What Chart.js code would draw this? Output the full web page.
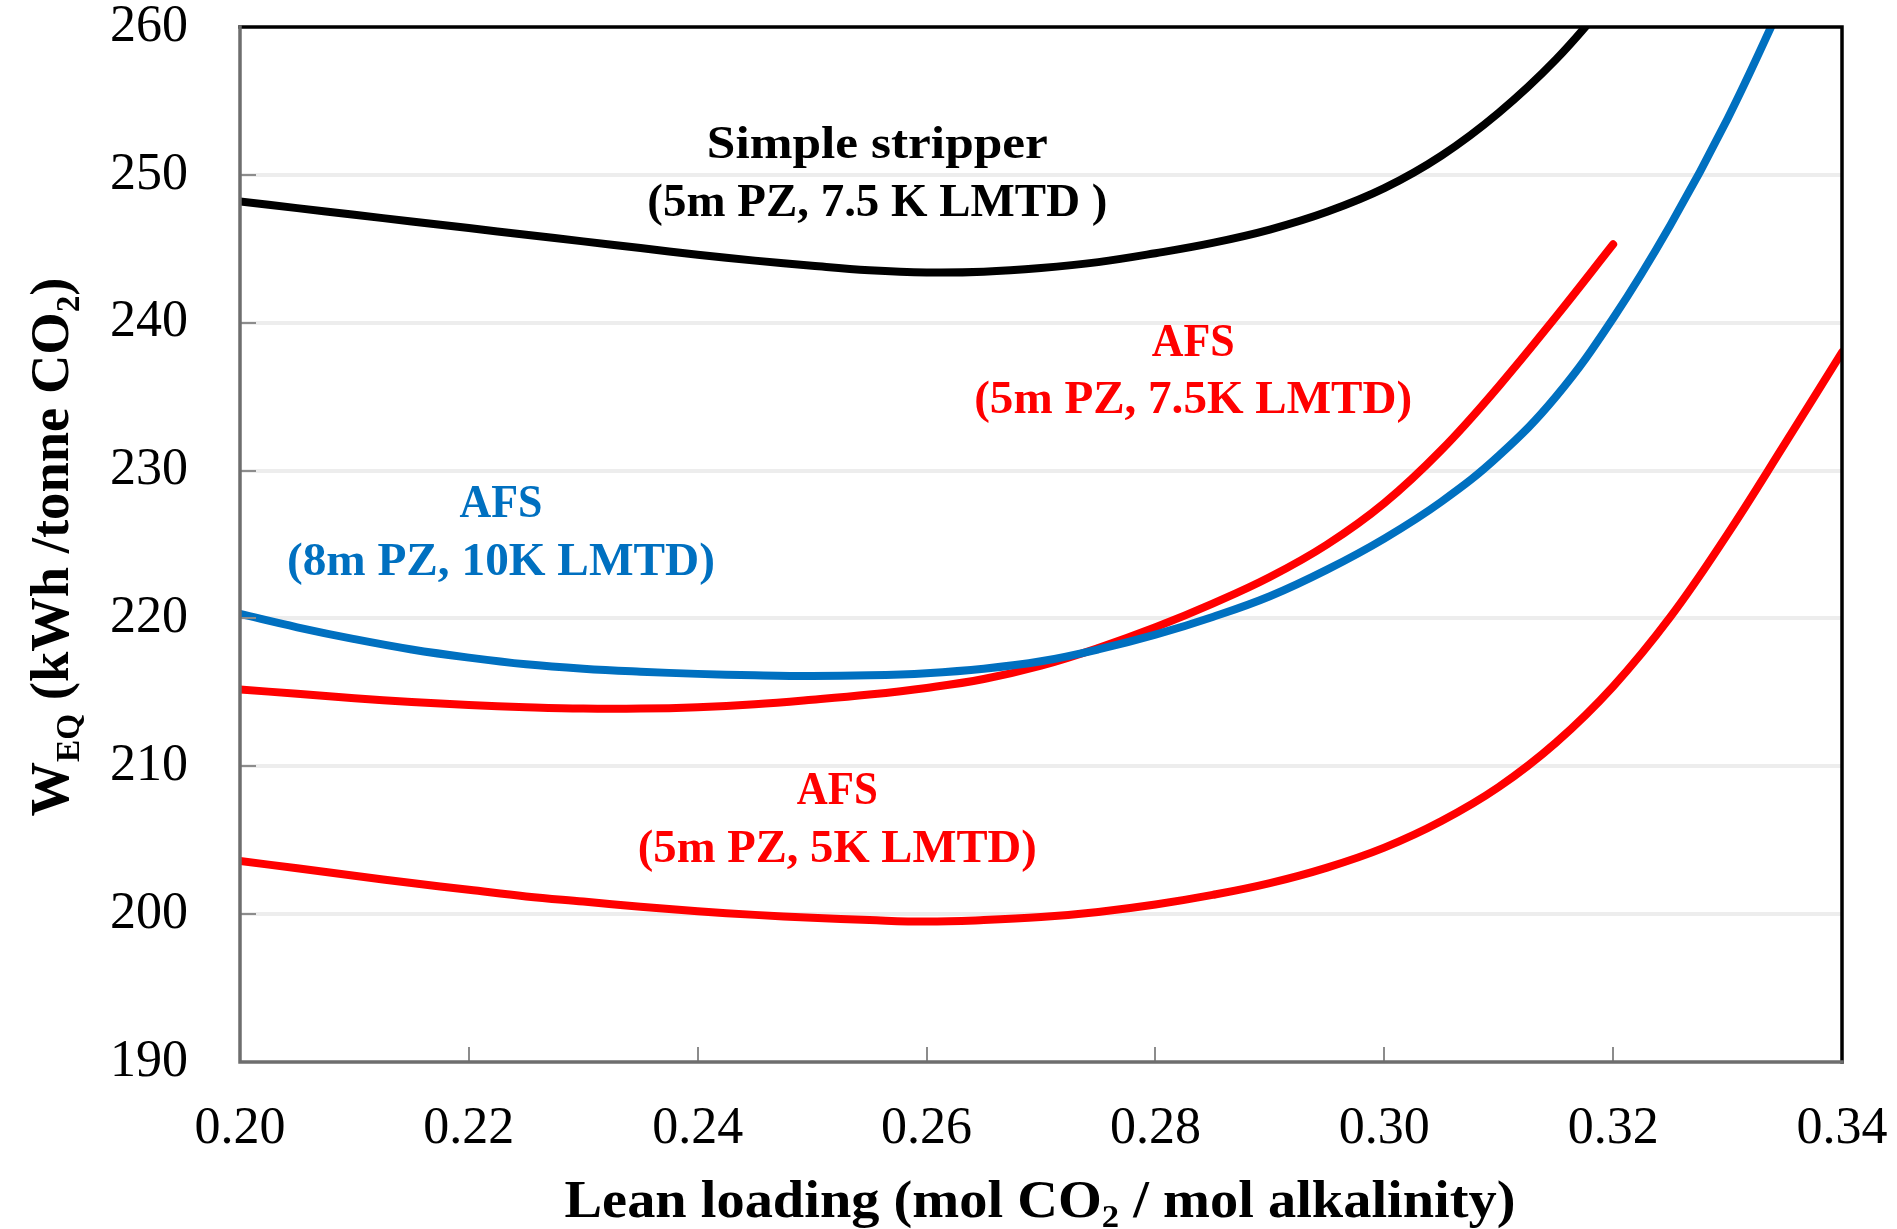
<!DOCTYPE html>
<html>
<head>
<meta charset="utf-8">
<script src="https://cdn.jsdelivr.net/npm/chart.js@4.4.1/dist/chart.umd.min.js"></script>
<style>
html, body { margin: 0; padding: 0; background: #fff; }
#chart { display: block; }
</style>
</head>
<body>
<canvas id="chart" width="1897" height="1229"></canvas>
<script>
// values
var xTickValues = [0.20, 0.22, 0.24, 0.26, 0.28, 0.30, 0.32, 0.34];
var yTickValues = [190, 200, 210, 220, 230, 240, 250, 260];

var simpleX = [0.200, 0.205, 0.210, 0.215, 0.220, 0.225, 0.230, 0.235, 0.240, 0.245, 0.250, 0.255, 0.260,
	0.265, 0.270, 0.275, 0.280, 0.285, 0.290, 0.295, 0.300, 0.305, 0.310, 0.315, 0.320];
var simpleY = [248.2, 247.75, 247.3, 246.85, 246.4, 245.95, 245.5, 245.05, 244.6, 244.2, 243.85, 243.55, 243.4,
	243.45, 243.7, 244.1, 244.7, 245.4, 246.3, 247.5, 249.1, 251.3, 254.2, 257.8, 262.2];

var afs8mX = [0.200, 0.205, 0.210, 0.215, 0.220, 0.225, 0.230, 0.235, 0.240, 0.245, 0.250, 0.255, 0.260,
	0.265, 0.270, 0.275, 0.280, 0.285, 0.290, 0.295, 0.300, 0.305, 0.310, 0.315, 0.320, 0.325, 0.330, 0.335];
var afs8mY = [220.3, 219.4, 218.6, 217.9, 217.35, 216.9, 216.6, 216.4, 216.25, 216.15, 216.1, 216.15, 216.3,
	216.6, 217.1, 217.9, 218.9, 220.1, 221.5, 223.3, 225.4, 227.9, 231.0, 235.0, 240.3, 246.6, 253.8, 262.0];

var afs75X = [0.200, 0.205, 0.210, 0.215, 0.220, 0.225, 0.230, 0.235, 0.240, 0.245, 0.250, 0.255, 0.260,
	0.265, 0.270, 0.275, 0.280, 0.285, 0.290, 0.295, 0.300, 0.305, 0.310, 0.315, 0.320];
var afs75Y = [215.2, 214.9, 214.6, 214.35, 214.15, 214.0, 213.9, 213.9, 214.0, 214.2, 214.5, 214.85, 215.3,
	215.9, 216.8, 218.0, 219.4, 221.0, 222.8, 225.0, 227.8, 231.4, 235.7, 240.4, 245.3];

var afs5X = [0.200, 0.205, 0.210, 0.215, 0.220, 0.225, 0.230, 0.235, 0.240, 0.245, 0.250, 0.255, 0.260,
	0.265, 0.270, 0.275, 0.280, 0.285, 0.290, 0.295, 0.300, 0.305, 0.310, 0.315, 0.320, 0.325, 0.330, 0.335, 0.340];
var afs5Y = [203.6, 203.1, 202.6, 202.1, 201.65, 201.2, 200.85, 200.5, 200.2, 199.95, 199.75, 199.6, 199.5,
	199.6, 199.8, 200.15, 200.65, 201.3, 202.1, 203.15, 204.5, 206.3, 208.6, 211.6, 215.4, 220.1, 225.7, 231.8, 238.0];

var RED = "#FF0000";
var BLUE = "#0070C0";
var FONT = "'Liberation Serif', 'Times New Roman', serif";

function toPoints(xs, ys) {
	var pts = [];
	for(var i = 0; i < xs.length; i++) {
		pts.push({x: xs[i], y: ys[i]});
	}
	return pts;
}

function lineSet(label, xs, ys, color) {
	return {
		label: label,
		data: toPoints(xs, ys),
		borderColor: color,
		backgroundColor: color,
		borderWidth: 8,
		borderCapStyle: 'round',
		borderJoinStyle: 'round',
		pointRadius: 0,
		showLine: true,
		tension: 0.4,
		clip: 0
	};
}

// text with optional subscripts, squeezed to a given width
function drawRich(ctx, parts, size, bold, width) {
	var total = 0;
	var subSize = Math.round(size * 0.62);
	parts.forEach(function(p) {
		ctx.font = (bold ? "bold " : "") + (p.sub ? subSize : size) + "px " + FONT;
		p.w = ctx.measureText(p.t).width;
		total += p.w;
	});
	var sx = width ? width / total : 1;
	ctx.save();
	ctx.scale(sx, 1);
	var x = -total / 2;
	ctx.textAlign = "left";
	ctx.textBaseline = "alphabetic";
	parts.forEach(function(p) {
		ctx.font = (bold ? "bold " : "") + (p.sub ? subSize : size) + "px " + FONT;
		ctx.fillText(p.t, x, p.sub ? size * 0.2 : 0);
		x += p.w;
	});
	ctx.restore();
}

var notes = [
	{text: "Simple stripper", color: "#000", x: 0.2557, y: 252.2, w: 341},
	{text: "(5m PZ, 7.5 K LMTD )", color: "#000", x: 0.2557, y: 248.3, w: 460},
	{text: "AFS", color: RED, x: 0.2833, y: 238.8, w: 83},
	{text: "(5m PZ, 7.5K LMTD)", color: RED, x: 0.2833, y: 235.0, w: 438},
	{text: "AFS", color: BLUE, x: 0.2228, y: 227.95, w: 83},
	{text: "(8m PZ, 10K LMTD)", color: BLUE, x: 0.2228, y: 224.0, w: 428},
	{text: "AFS", color: RED, x: 0.2522, y: 208.5, w: 81},
	{text: "(5m PZ, 5K LMTD)", color: RED, x: 0.2522, y: 204.6, w: 399}
];

var framePlugin = {
	id: 'frame',
	afterDraw: function(chart) {
		var ctx = chart.ctx;
		var a = chart.chartArea;
		var xs = chart.scales.x, ys = chart.scales.y;

		// inner tick marks
		ctx.save();
		ctx.strokeStyle = "#8C8C8C";
		ctx.lineWidth = 2;
		yTickValues.forEach(function(v) {
			var y = Math.round(ys.getPixelForValue(v));
			ctx.beginPath(); ctx.moveTo(a.left, y); ctx.lineTo(a.left + 16, y); ctx.stroke();
		});
		xTickValues.forEach(function(v) {
			var x = Math.round(xs.getPixelForValue(v));
			ctx.beginPath(); ctx.moveTo(x, a.bottom); ctx.lineTo(x, a.bottom - 15); ctx.stroke();
		});

		// frame
		ctx.lineCap = "square";
		ctx.strokeStyle = "#000";
		ctx.lineWidth = 3.5;
		ctx.beginPath(); ctx.moveTo(a.left, a.top); ctx.lineTo(a.right, a.top); ctx.lineTo(a.right, a.bottom); ctx.stroke();
		ctx.strokeStyle = "#6E6E6E";
		ctx.lineWidth = 3.5;
		ctx.beginPath(); ctx.moveTo(a.left, a.top); ctx.lineTo(a.left, a.bottom); ctx.lineTo(a.right, a.bottom); ctx.stroke();
		ctx.restore();

		// curve labels
		notes.forEach(function(n) {
			ctx.save();
			ctx.fillStyle = n.color;
			ctx.translate(xs.getPixelForValue(n.x), ys.getPixelForValue(n.y) + 16);
			drawRich(ctx, [{t: n.text}], 47, true, n.w);
			ctx.restore();
		});

		// x axis title
		ctx.save();
		ctx.fillStyle = "#000";
		ctx.translate(1040, 1217);
		drawRich(ctx, [{t: "Lean loading (mol CO"}, {t: "2", sub: true}, {t: " / mol alkalinity)"}], 52, true, 951);
		ctx.restore();

		// y axis title
		ctx.save();
		ctx.fillStyle = "#000";
		ctx.translate(68, 547);
		ctx.rotate(-Math.PI / 2);
		drawRich(ctx, [{t: "W"}, {t: "EQ", sub: true}, {t: " (kWh /tonne CO"}, {t: "2", sub: true}, {t: ")"}], 54, true, 539);
		ctx.restore();
	}
};

var config = {
	type: 'scatter',
	data: {
		datasets: [
			lineSet("Simple stripper (5m PZ, 7.5 K LMTD)", simpleX, simpleY, "#000000"),
			lineSet("AFS (8m PZ, 10K LMTD)", afs8mX, afs8mY, BLUE),
			lineSet("AFS (5m PZ, 7.5K LMTD)", afs75X, afs75Y, RED),
			lineSet("AFS (5m PZ, 5K LMTD)", afs5X, afs5Y, RED)
		]
	},
	options: {
		responsive: false,
		animation: false,
		devicePixelRatio: 1,
		layout: { padding: { top: 27, right: 55, left: 0, bottom: 0 } },
		plugins: {
			legend: { display: false },
			tooltip: { enabled: false }
		},
		scales: {
			x: {
				type: 'linear',
				min: 0.20,
				max: 0.34,
				afterBuildTicks: function(s) { s.ticks = xTickValues.map(function(v) { return {value: v}; }); },
				afterFit: function(s) { s.height = 167; s.paddingLeft = 0; s.paddingRight = 0; },
				grid: { display: false, drawTicks: false },
				border: { display: false },
				ticks: {
					color: "#000",
					padding: 36,
					maxRotation: 0,
					autoSkip: false,
					font: { family: FONT, size: 52 },
					callback: function(v) { return Number(v).toFixed(2); }
				}
			},
			y: {
				type: 'linear',
				min: 190,
				max: 260,
				afterBuildTicks: function(s) { s.ticks = yTickValues.map(function(v) { return {value: v}; }); },
				afterFit: function(s) { s.width = 240; s.paddingTop = 0; s.paddingBottom = 0; },
				grid: {
					drawTicks: false,
					lineWidth: 4,
					color: function(c) {
						if(c.tick && (c.tick.value === 190 || c.tick.value === 260)) return "rgba(0,0,0,0)";
						return "#EDEDED";
					}
				},
				border: { display: false },
				ticks: {
					color: "#000",
					padding: 52,
					autoSkip: false,
					font: { family: FONT, size: 52 }
				}
			}
		}
	},
	plugins: [framePlugin]
};

var myChart = new Chart(document.getElementById('chart'), config);
</script>
</body>
</html>
